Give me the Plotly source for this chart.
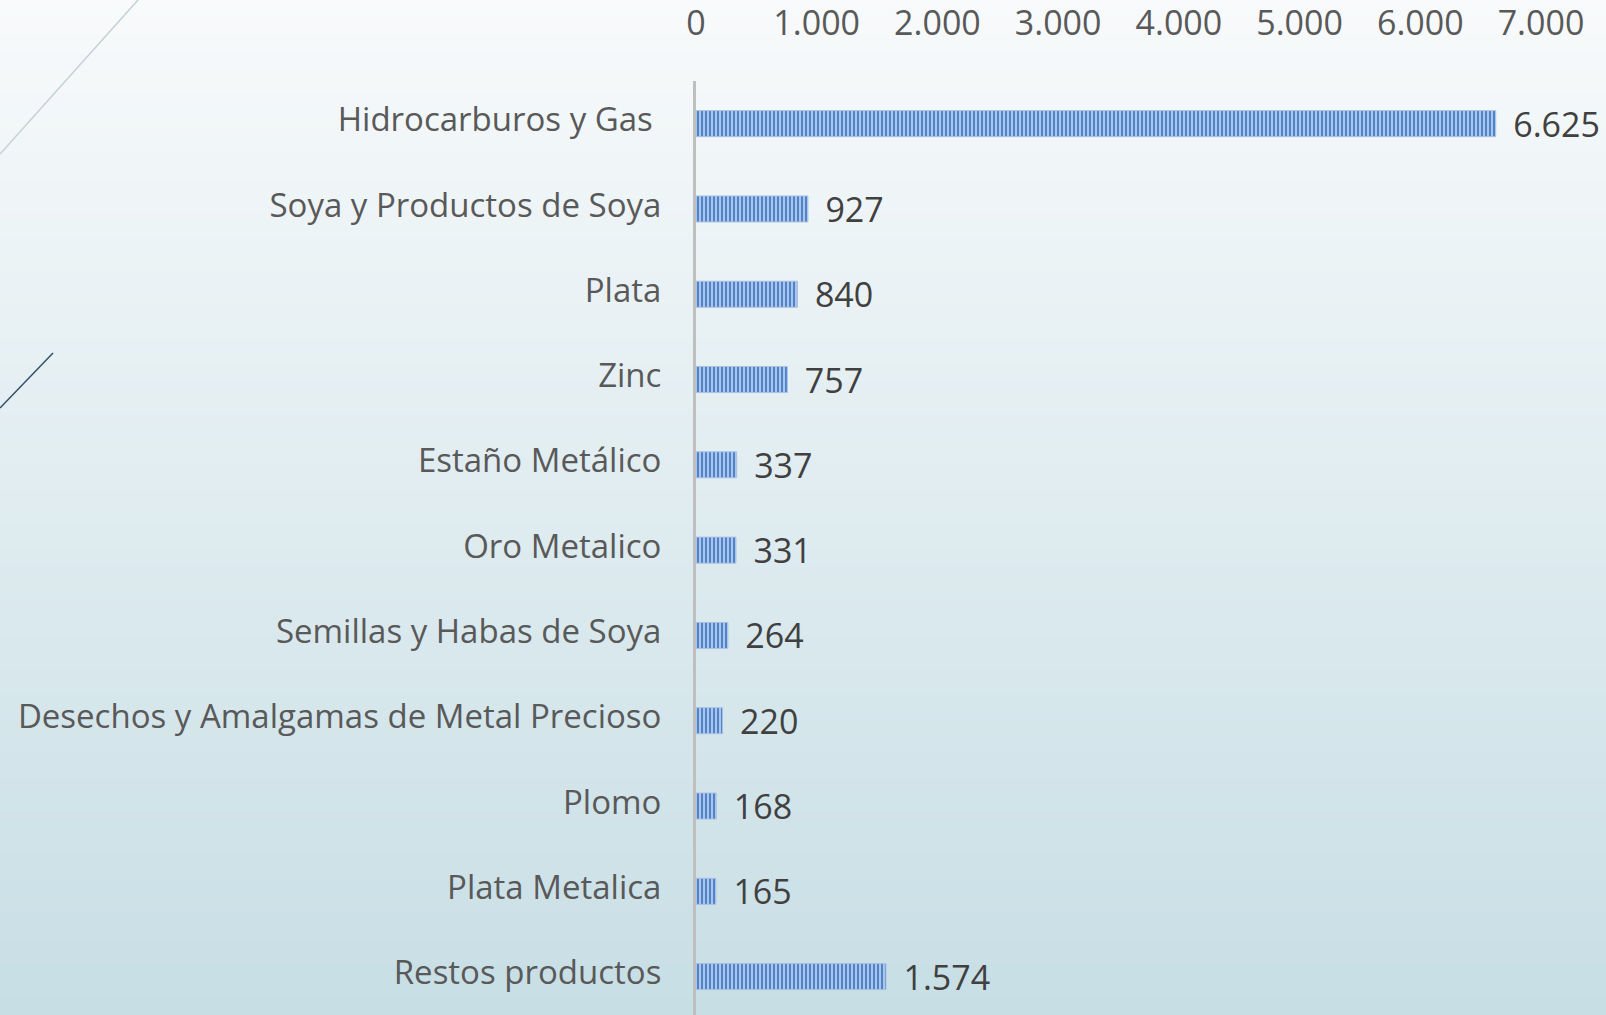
import plotly.graph_objects as go

categories = [
    "Hidrocarburos y Gas ",
    "Soya y Productos de Soya",
    "Plata",
    "Zinc",
    "Estaño Metálico",
    "Oro Metalico",
    "Semillas y Habas de Soya",
    "Desechos y Amalgamas de Metal Precioso",
    "Plomo",
    "Plata Metalica",
    "Restos productos",
]
values = [6625, 927, 840, 757, 337, 331, 264, 220, 168, 165, 1574]
tick_vals = [0, 1000, 2000, 3000, 4000, 5000, 6000, 7000]

W, H = 1606, 1015
L, R, T, B = 696, 65, 81, 0
PW, PH = W - L - R, H - T - B

def px(x):
    return (x - L) / PW

def py(y):
    return (H - B - y) / PH

FONT = "Open Sans"

fig = go.Figure()
fig.add_trace(go.Bar(
    x=values, y=categories, orientation="h",
    width=0.305,
    marker=dict(
        color="#4a7bc2",
        line=dict(color="#a9c1e4", width=1),
        pattern=dict(shape="|", size=4, solidity=0.55,
                     fgcolor="#5083c9", bgcolor="#b6cdee", fillmode="replace"),
    ),
    texttemplate="\u00a0\u2009%{x:,.0f}",
    textposition="outside",
    constraintext="none",
    textfont=dict(family=FONT, size=34, color="#404040"),
    cliponaxis=False,
    hoverinfo="skip",
))

# background gradient strips
top = (248, 250, 251)
bot = (199, 222, 229)
N = 120
shapes = []
for i in range(N):
    y0 = H * i / N
    y1 = H * (i + 1) / N + 1
    t = (i + 0.5) / N
    c = tuple(round(top[k] + (bot[k] - top[k]) * t) for k in range(3))
    shapes.append(dict(type="rect", xref="paper", yref="paper", layer="below",
                       x0=px(0), x1=px(W), y0=py(y1), y1=py(y0),
                       fillcolor="rgb(%d,%d,%d)" % c, line=dict(width=0)))
# decorative lines
shapes.append(dict(type="line", xref="paper", yref="paper", layer="below",
                   x0=px(0), y0=py(154), x1=px(138), y1=py(0),
                   line=dict(color="#c5d0d6", width=1.5)))
shapes.append(dict(type="line", xref="paper", yref="paper", layer="below",
                   x0=px(0), y0=py(408), x1=px(53), y1=py(353),
                   line=dict(color="#2f4f6a", width=1.5)))

fig.update_layout(
    width=W, height=H,
    margin=dict(l=L, r=R, t=T, b=B, pad=0),
    paper_bgcolor="rgba(0,0,0,0)",
    plot_bgcolor="rgba(0,0,0,0)",
    separators=",.",
    showlegend=False,
    shapes=shapes,
    xaxis=dict(
        side="top", range=[0, 7000], tickvals=tick_vals,
        tickformat=",.0f", showgrid=False, zeroline=False, showline=False,
        ticks="", ticklabelstandoff=38,
        tickfont=dict(family=FONT, size=34, color="#595959"),
    ),
    yaxis=dict(
        categoryorder="array", categoryarray=categories,
        range=[10.45, -0.5], showgrid=False, zeroline=False,
        showline=True, linecolor="#bfbfbf", linewidth=3,
        ticks="", ticklabelstandoff=25, ticklabelshift=4,
        tickfont=dict(family=FONT, size=33, color="#595959"),
    ),
)

fig.write_html(
    "out.html",
    config={"displayModeBar": False},
    post_script="document.body.style.margin='0';document.body.style.overflow='hidden';",
)
